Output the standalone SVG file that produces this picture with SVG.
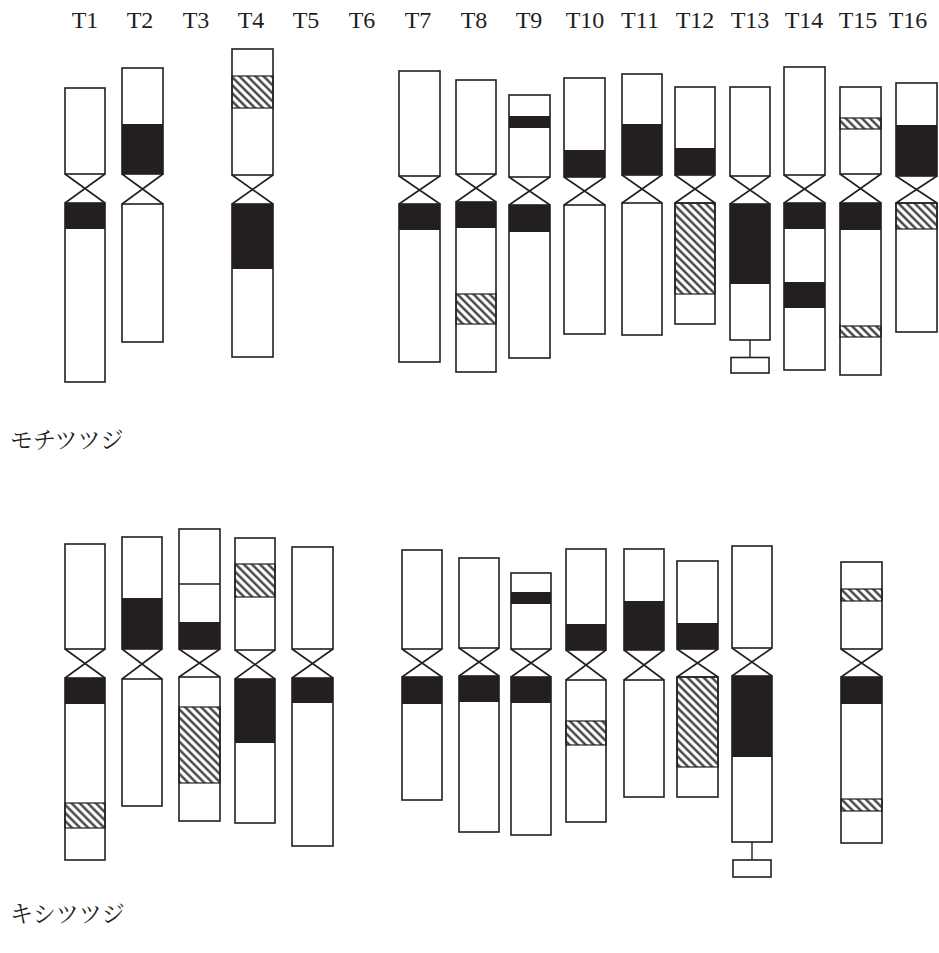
<svg xmlns="http://www.w3.org/2000/svg" width="939" height="953" viewBox="0 0 939 953">
  <defs>
    <pattern id="hatch" patternUnits="userSpaceOnUse" width="5.7" height="5.7" patternTransform="rotate(-45)">
      <rect width="5.7" height="5.7" fill="#ffffff"/>
      <line x1="1.4" y1="0" x2="1.4" y2="5.7" stroke="#3a3a3a" stroke-width="2.3"/>
    </pattern>
  </defs>
  <style>
    .arm { fill: none; stroke: #231f20; stroke-width: 1.6; }
    .blk { fill: #231f20; }
    .hat { fill: url(#hatch); stroke: #231f20; stroke-width: 1.2; }
    .cen { fill: none; stroke: #231f20; stroke-width: 1.6; }
    .sep { stroke: #231f20; stroke-width: 1.4; }
    .lbl { font-family: "Liberation Serif", "Times New Roman", serif; font-size: 24px; fill: #231f20; text-anchor: middle; }
    .sp { font-family: "Noto Serif CJK JP", "Noto Sans CJK JP", serif; font-size: 23px; fill: #231f20; }
  </style>

  <!-- chromosome numbers -->
  <g id="labels">
    <text class="lbl" x="85" y="28">T1</text>
    <text class="lbl" x="140" y="28">T2</text>
    <text class="lbl" x="196" y="28">T3</text>
    <text class="lbl" x="251" y="28">T4</text>
    <text class="lbl" x="306" y="28">T5</text>
    <text class="lbl" x="362" y="28">T6</text>
    <text class="lbl" x="418" y="28">T7</text>
    <text class="lbl" x="474" y="28">T8</text>
    <text class="lbl" x="529" y="28">T9</text>
    <text class="lbl" x="585" y="28">T10</text>
    <text class="lbl" x="640" y="28">T11</text>
    <text class="lbl" x="695" y="28">T12</text>
    <text class="lbl" x="750" y="28">T13</text>
    <text class="lbl" x="804" y="28">T14</text>
    <text class="lbl" x="858" y="28">T15</text>
    <text class="lbl" x="908" y="28">T16</text>
  </g>

  <!-- species names -->
  <text id="sp-mochi" class="sp" x="10" y="448">モチツツジ</text>
  <text id="sp-kishi" class="sp" x="10" y="922">キシツツジ</text>

  <!-- ===== Row 1 ===== -->
  <g id="m-T1">
    <rect class="blk" x="65" y="203" width="40" height="26"/>
    <rect class="arm" x="65" y="88" width="40" height="86"/>
    <rect class="arm" x="65" y="203" width="40" height="179"/>
    <path class="cen" d="M65,174 L105,203 M105,174 L65,203"/>
  </g>
  <g id="m-T2">
    <rect class="blk" x="122" y="124" width="41" height="50"/>
    <rect class="arm" x="122" y="68" width="41" height="106"/>
    <rect class="arm" x="122" y="204" width="41" height="138"/>
    <path class="cen" d="M122,174 L163,204 M163,174 L122,204"/>
  </g>
  <g id="m-T4">
    <rect class="hat" x="232" y="76" width="41" height="32"/>
    <rect class="blk" x="232" y="204" width="41" height="65"/>
    <rect class="arm" x="232" y="49" width="41" height="126"/>
    <rect class="arm" x="232" y="204" width="41" height="153"/>
    <path class="cen" d="M232,175 L273,204 M273,175 L232,204"/>
  </g>
  <g id="m-T7">
    <rect class="blk" x="399" y="204" width="41" height="26"/>
    <rect class="arm" x="399" y="71" width="41" height="105"/>
    <rect class="arm" x="399" y="204" width="41" height="158"/>
    <path class="cen" d="M399,176 L440,204 M440,176 L399,204"/>
  </g>
  <g id="m-T8">
    <rect class="blk" x="456" y="202" width="40" height="26"/>
    <rect class="hat" x="456" y="294" width="40" height="30"/>
    <rect class="arm" x="456" y="80" width="40" height="94"/>
    <rect class="arm" x="456" y="202" width="40" height="170"/>
    <path class="cen" d="M456,174 L496,202 M496,174 L456,202"/>
  </g>
  <g id="m-T9">
    <rect class="blk" x="509" y="116" width="41" height="12"/>
    <rect class="blk" x="509" y="205" width="41" height="27"/>
    <rect class="arm" x="509" y="95" width="41" height="82"/>
    <rect class="arm" x="509" y="205" width="41" height="153"/>
    <path class="cen" d="M509,177 L550,205 M550,177 L509,205"/>
  </g>
  <g id="m-T10">
    <rect class="blk" x="564" y="150" width="41" height="27"/>
    <rect class="arm" x="564" y="78" width="41" height="99"/>
    <rect class="arm" x="564" y="205" width="41" height="129"/>
    <path class="cen" d="M564,177 L605,205 M605,177 L564,205"/>
  </g>
  <g id="m-T11">
    <rect class="blk" x="622" y="124" width="40" height="51"/>
    <rect class="arm" x="622" y="74" width="40" height="101"/>
    <rect class="arm" x="622" y="203" width="40" height="132"/>
    <path class="cen" d="M622,175 L662,203 M662,175 L622,203"/>
  </g>
  <g id="m-T12">
    <rect class="blk" x="675" y="148" width="40" height="27"/>
    <rect class="hat" x="675" y="203" width="40" height="91"/>
    <rect class="arm" x="675" y="87" width="40" height="88"/>
    <rect class="arm" x="675" y="203" width="40" height="121"/>
    <path class="cen" d="M675,175 L715,203 M715,175 L675,203"/>
  </g>
  <g id="m-T13">
    <rect class="blk" x="730" y="204" width="40" height="80"/>
    <rect class="arm" x="730" y="87" width="40" height="89"/>
    <rect class="arm" x="730" y="204" width="40" height="136"/>
    <path class="cen" d="M730,176 L770,204 M770,176 L730,204"/>
    <line class="sep" x1="750" y1="340" x2="750" y2="357"/>
    <rect class="arm" x="731" y="357.5" width="38" height="15.5"/>
  </g>
  <g id="m-T14">
    <rect class="blk" x="784" y="203" width="41" height="26"/>
    <rect class="blk" x="784" y="282" width="41" height="26"/>
    <rect class="arm" x="784" y="67" width="41" height="108"/>
    <rect class="arm" x="784" y="203" width="41" height="167"/>
    <path class="cen" d="M784,175 L825,203 M825,175 L784,203"/>
  </g>
  <g id="m-T15">
    <rect class="hat" x="840" y="118" width="41" height="11"/>
    <rect class="blk" x="840" y="203" width="41" height="27"/>
    <rect class="hat" x="840" y="326" width="41" height="11"/>
    <rect class="arm" x="840" y="87" width="41" height="87"/>
    <rect class="arm" x="840" y="203" width="41" height="172"/>
    <path class="cen" d="M840,174 L881,203 M881,174 L840,203"/>
  </g>
  <g id="m-T16">
    <rect class="blk" x="896" y="125" width="41" height="51"/>
    <rect class="hat" x="896" y="203" width="41" height="26"/>
    <rect class="arm" x="896" y="83" width="41" height="93"/>
    <rect class="arm" x="896" y="203" width="41" height="129"/>
    <path class="cen" d="M896,176 L937,203 M937,176 L896,203"/>
  </g>

  <!-- ===== Row 2 ===== -->
  <g id="k-T1">
    <rect class="blk" x="65" y="678" width="40" height="26"/>
    <rect class="hat" x="65" y="803" width="40" height="25"/>
    <rect class="arm" x="65" y="544" width="40" height="105"/>
    <rect class="arm" x="65" y="678" width="40" height="182"/>
    <path class="cen" d="M65,649 L105,678 M105,649 L65,678"/>
  </g>
  <g id="k-T2">
    <rect class="blk" x="122" y="598" width="40" height="51"/>
    <rect class="arm" x="122" y="537" width="40" height="112"/>
    <rect class="arm" x="122" y="679" width="40" height="127"/>
    <path class="cen" d="M122,649 L162,679 M162,649 L122,679"/>
  </g>
  <g id="k-T3">
    <rect class="blk" x="179" y="622" width="41" height="27"/>
    <rect class="hat" x="179" y="707" width="41" height="76"/>
    <rect class="arm" x="179" y="529" width="41" height="120"/>
    <line class="sep" x1="179" y1="584" x2="220" y2="584"/>
    <rect class="arm" x="179" y="677" width="41" height="144"/>
    <path class="cen" d="M179,649 L220,677 M220,649 L179,677"/>
  </g>
  <g id="k-T4">
    <rect class="hat" x="235" y="564" width="40" height="33"/>
    <rect class="blk" x="235" y="679" width="40" height="64"/>
    <rect class="arm" x="235" y="538" width="40" height="112"/>
    <rect class="arm" x="235" y="679" width="40" height="144"/>
    <path class="cen" d="M235,650 L275,679 M275,650 L235,679"/>
  </g>
  <g id="k-T5">
    <rect class="blk" x="292" y="678" width="41" height="25"/>
    <rect class="arm" x="292" y="547" width="41" height="102"/>
    <rect class="arm" x="292" y="678" width="41" height="168"/>
    <path class="cen" d="M292,649 L333,678 M333,649 L292,678"/>
  </g>
  <g id="k-T7">
    <rect class="blk" x="402" y="677" width="40" height="27"/>
    <rect class="arm" x="402" y="550" width="40" height="99"/>
    <rect class="arm" x="402" y="677" width="40" height="123"/>
    <path class="cen" d="M402,649 L442,677 M442,649 L402,677"/>
  </g>
  <g id="k-T8">
    <rect class="blk" x="459" y="676" width="40" height="26"/>
    <rect class="arm" x="459" y="558" width="40" height="90"/>
    <rect class="arm" x="459" y="676" width="40" height="156"/>
    <path class="cen" d="M459,648 L499,676 M499,648 L459,676"/>
  </g>
  <g id="k-T9">
    <rect class="blk" x="511" y="592" width="40" height="12"/>
    <rect class="blk" x="511" y="677" width="40" height="26"/>
    <rect class="arm" x="511" y="573" width="40" height="76"/>
    <rect class="arm" x="511" y="677" width="40" height="158"/>
    <path class="cen" d="M511,649 L551,677 M551,649 L511,677"/>
  </g>
  <g id="k-T10">
    <rect class="blk" x="566" y="624" width="40" height="26"/>
    <rect class="hat" x="566" y="721" width="40" height="24"/>
    <rect class="arm" x="566" y="549" width="40" height="101"/>
    <rect class="arm" x="566" y="680" width="40" height="142"/>
    <path class="cen" d="M566,650 L606,680 M606,650 L566,680"/>
  </g>
  <g id="k-T11">
    <rect class="blk" x="624" y="601" width="40" height="49"/>
    <rect class="arm" x="624" y="549" width="40" height="101"/>
    <rect class="arm" x="624" y="680" width="40" height="117"/>
    <path class="cen" d="M624,650 L664,680 M664,650 L624,680"/>
  </g>
  <g id="k-T12">
    <rect class="blk" x="677" y="623" width="41" height="26"/>
    <rect class="hat" x="677" y="677" width="41" height="90"/>
    <rect class="arm" x="677" y="561" width="41" height="88"/>
    <rect class="arm" x="677" y="677" width="41" height="120"/>
    <path class="cen" d="M677,649 L718,677 M718,649 L677,677"/>
  </g>
  <g id="k-T13">
    <rect class="blk" x="732" y="676" width="40" height="81"/>
    <rect class="arm" x="732" y="546" width="40" height="102"/>
    <rect class="arm" x="732" y="676" width="40" height="166"/>
    <path class="cen" d="M732,648 L772,676 M772,648 L732,676"/>
    <line class="sep" x1="752" y1="842" x2="752" y2="860"/>
    <rect class="arm" x="733" y="860" width="38" height="17"/>
  </g>
  <g id="k-T15">
    <rect class="hat" x="841" y="589" width="41" height="12"/>
    <rect class="blk" x="841" y="677" width="41" height="27"/>
    <rect class="hat" x="841" y="799" width="41" height="12"/>
    <rect class="arm" x="841" y="562" width="41" height="87"/>
    <rect class="arm" x="841" y="677" width="41" height="166"/>
    <path class="cen" d="M841,649 L882,677 M882,649 L841,677"/>
  </g>
</svg>
